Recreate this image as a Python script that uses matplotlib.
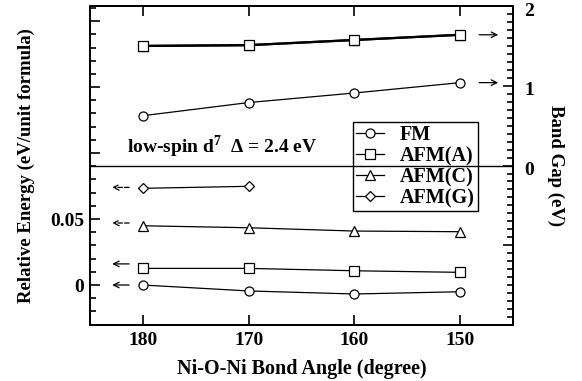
import matplotlib

matplotlib.use("Agg")
import matplotlib.pyplot as plt
import matplotlib.transforms as mtransforms
from matplotlib.ticker import FixedLocator, MultipleLocator, FuncFormatter

plt.rcParams["font.family"] = ["Liberation Serif", "DejaVu Serif"]
plt.rcParams["font.weight"] = "bold"
plt.rcParams["mathtext.fontset"] = "custom"
plt.rcParams["mathtext.rm"] = "Liberation Serif:bold"
plt.rcParams["mathtext.bf"] = "Liberation Serif:bold"

# bond angle (degree)
angles = [180, 170, 160, 150]

# relative energy (eV/unit formula), lower panel
energy_fm = [0.0, -0.0045, -0.0068, -0.0051]
energy_afm_a = [0.0126, 0.0126, 0.0108, 0.0096]
energy_afm_c = [0.0449, 0.0434, 0.0409, 0.0404]
energy_afm_g_angles = [180, 170]
energy_afm_g = [0.0733, 0.0748]

# band gap (eV), upper panel
gap_fm = [0.625, 0.79, 0.91, 1.04]
gap_afm_a = [1.50, 1.51, 1.575, 1.64]
gap_afm_c = [1.50, 1.51, 1.575, 1.64]

fig = plt.figure(figsize=(5.82, 3.81), dpi=100)
ax = fig.add_axes([0.1546, 0.147, 0.7268, 0.837])
ax2 = ax.twinx()

ax.set_xlim(185, 145)
ax.set_ylim(-0.0303, 0.2114)
ax2.set_ylim(-2.0, 2.0)

line_kw = dict(color="black", linewidth=0.9, markersize=6.5, markerfacecolor="white",
               markeredgecolor="black", markeredgewidth=0.9)

ax.plot(angles, energy_fm, marker="o", label="FM", **line_kw)
ax.plot(angles, energy_afm_a, marker="s", label="AFM(A)", **line_kw)
ax.plot(angles, energy_afm_c, marker="^", label="AFM(C)", **line_kw)
ax.plot(energy_afm_g_angles, energy_afm_g, marker="D", label="AFM(G)",
        **{**line_kw, "markersize": 5.5})

ax2.plot(angles, gap_fm, marker="o", **line_kw)
ax2.plot(angles, gap_afm_c, marker="^", **{**line_kw, "linewidth": 1.6})
ax2.plot(angles, gap_afm_a, marker="s", **{**line_kw, "linewidth": 1.6})

# divider between the band-gap panel and the energy panel
ax2.axhline(0, color="black", linewidth=1.0)

# arrows pointing to the axis each curve belongs to
arrow_left = [(0.0, "-"), (0.016, "-"), (0.047, "--"), (0.074, "--")]
for y, ls in arrow_left:
    ax.annotate("", xy=(182.9, y), xytext=(181.3, y),
                arrowprops=dict(arrowstyle="->", color="black", lw=0.9, linestyle=ls,
                                shrinkA=0, shrinkB=0, mutation_scale=10))
for y in [gap_afm_a[-1], gap_fm[-1]]:
    ax2.annotate("", xy=(146.4, y), xytext=(148.2, y),
                 arrowprops=dict(arrowstyle="->", color="black", lw=0.9,
                                 shrinkA=0, shrinkB=0, mutation_scale=10))

ax.text(181.5, 0.1045, r"low-spin d$^{7}$  $\Delta$ = 2.4 eV", fontsize=14,
        fontweight="bold", va="center", ha="left")

# ticks
ax.xaxis.set_major_locator(FixedLocator(angles))
ax.yaxis.set_major_locator(MultipleLocator(0.05))
ax.yaxis.set_minor_locator(MultipleLocator(0.01))
ax.yaxis.set_major_formatter(FuncFormatter(
    lambda v, p: {0: "0", 5: "0.05"}.get(round(v * 100), "")))
ax2.yaxis.set_major_locator(FixedLocator([-1, 0, 1, 2]))
ax2.yaxis.set_minor_locator(MultipleLocator(0.1))
ax2.yaxis.set_major_formatter(FuncFormatter(
    lambda v, p: {0: "0", 1: "1", 2: "2"}.get(round(v), "")))

ax.tick_params(axis="both", which="both", direction="in", labelsize=14, width=1.2)
ax.tick_params(axis="x", which="major", top=True, length=7, pad=5)
ax.tick_params(axis="y", which="major", length=7, pad=4)
ax.tick_params(axis="y", which="minor", length=4.5)
ax2.tick_params(axis="y", which="both", direction="in", labelsize=14, width=1.2, pad=8)
ax2.tick_params(axis="y", which="major", length=7)
ax2.tick_params(axis="y", which="minor", length=4.5)

# right-hand labels sit slightly below their ticks in the original
shift = mtransforms.ScaledTranslation(0, -3 / 100, fig.dpi_scale_trans)
for lab in ax2.get_yticklabels():
    lab.set_transform(lab.get_transform() + shift)

for spine in ax.spines.values():
    spine.set_linewidth(1.4)
for spine in ax2.spines.values():
    spine.set_linewidth(1.4)

ax.set_xlabel("Ni-O-Ni Bond Angle (degree)", fontsize=14.5, fontweight="bold", labelpad=7)
ax.set_ylabel("Relative Energy (eV/unit formula)", fontsize=13.5, fontweight="bold",
              labelpad=11)
ax2.set_ylabel("Band Gap (eV)", fontsize=13.5, fontweight="bold", rotation=-90,
               labelpad=22)

leg = ax.legend(loc="lower right", bbox_to_anchor=(0.917, 0.357), fontsize=14.5,
                frameon=True, fancybox=False, edgecolor="black", framealpha=1,
                handlelength=1.4, handletextpad=0.8, borderpad=0.15,
                labelspacing=0.05, borderaxespad=0)
leg.get_frame().set_linewidth(1.0)

fig.savefig("out.png", dpi=100)
